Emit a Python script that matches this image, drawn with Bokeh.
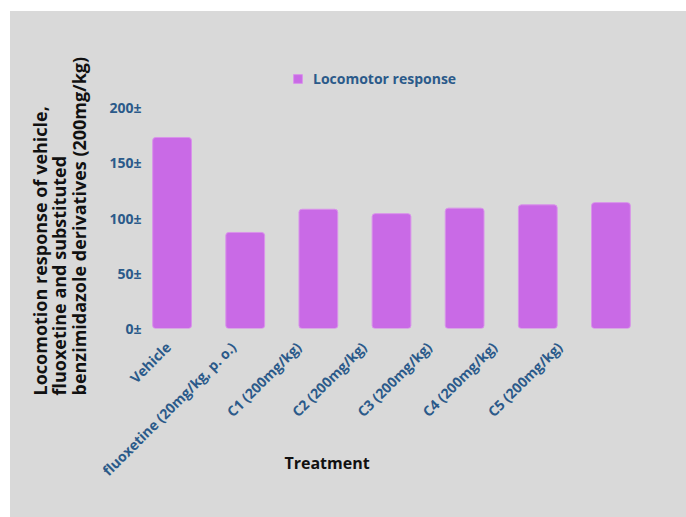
from math import pi

from bokeh.embed import file_html
from bokeh.models import (FixedTicker, Legend, LegendItem, LinearAxis,
                          LinearScale, Range1d, Title)
from bokeh.plotting import figure
from bokeh.resources import INLINE

# Locomotor response per treatment group
treatments = [
    "Vehicle",
    "fluoxetine (20mg/kg, p. o.)",
    "C1 (200mg/kg)",
    "C2 (200mg/kg)",
    "C3 (200mg/kg)",
    "C4 (200mg/kg)",
    "C5 (200mg/kg)",
]
locomotor_response = [173, 87, 108, 104, 109, 112, 114]

y_ticks = [0, 50, 100, 150, 200]
y_tick_labels = ["0\u00b1", "50\u00b1", "100\u00b1", "150\u00b1", "200\u00b1"]

y_title = ("Locomotion response of vehicle,\n"
           "fluoxetine and substituted\n"
           "benzimidazole derivatives (200mg/kg)")
x_title = "Treatment"

BG = "#d9d9d9"
BAR = "#c96ae6"
BLUE = "#2b5a8a"
INK = "#111111"
FONT = "Open Sans"

# one slot per treatment, bar centred in its slot
slots = [i + 0.5 for i in range(len(treatments))]

p = figure(
    x_range=Range1d(0, len(treatments)),
    y_range=Range1d(0, 240),
    width=676,
    height=506,
    output_backend="svg",
    toolbar_location=None,
    x_axis_location=None,
    min_border_left=125,
    min_border_right=39,
    min_border_top=52,
    min_border_bottom=189,
    background_fill_color=BG,
    border_fill_color=BG,
    outline_line_color=None,
)
p.margin = (11, 0, 0, 10)
p.styles = {"background-color": BG}

bars = p.vbar(
    x=slots,
    top=locomotor_response,
    width=0.53,
    fill_color=BAR,
    line_color="#d993ea",
    line_width=1,
    border_radius=3,
)

p.xgrid.grid_line_color = None
p.ygrid.grid_line_color = None

# y axis: plain tick labels only
p.yaxis.ticker = FixedTicker(ticks=y_ticks)
p.yaxis.major_label_overrides = {t: s for t, s in zip(y_ticks, y_tick_labels)}
p.yaxis.axis_line_color = None
p.yaxis.major_tick_line_color = None
p.yaxis.minor_tick_line_color = None
p.yaxis.major_tick_out = 0
p.yaxis.major_label_standoff = -6
p.yaxis.major_label_text_font = FONT
p.yaxis.major_label_text_font_style = "bold"
p.yaxis.major_label_text_font_size = "14px"
p.yaxis.major_label_text_color = BLUE

# treatment names sit on a slightly tighter axis of their own;
# the trailing no-break spaces pull the centred title towards the left
p.extra_x_ranges = {"names": Range1d(0, 7.85)}
p.extra_x_scales = {"names": LinearScale()}
name_axis = LinearAxis(
    x_range_name="names",
    ticker=FixedTicker(ticks=slots),
    major_label_overrides={pos: name for pos, name in zip(slots, treatments)},
    axis_line_color=None,
    major_tick_line_color=None,
    minor_tick_line_color=None,
    major_tick_out=0,
    major_label_orientation=pi / 4,
    major_label_standoff=16,
    major_label_text_font=FONT,
    major_label_text_font_style="bold",
    major_label_text_font_size="14px",
    major_label_text_color=BLUE,
    axis_label=x_title + "\u00a0" * 31,
    axis_label_standoff=-37,
    axis_label_text_font=FONT,
    axis_label_text_font_style="bold",
    axis_label_text_font_size="16px",
    axis_label_text_color=INK,
)
p.add_layout(name_axis, "below")

# y axis title, anchored a little below the frame bottom
p.add_layout(Title(
    text=y_title, align="left", vertical_align="top", offset=-67, standoff=28,
    text_line_height=0.82,
    text_font=FONT, text_font_style="bold", text_font_size="18px",
    text_color=INK,
), "left")

legend = Legend(
    items=[LegendItem(label="Locomotor response", renderers=[bars])],
    location=(157, 240),
    orientation="horizontal",
    glyph_width=11,
    glyph_height=11,
    label_standoff=10,
    padding=0,
    margin=0,
    border_line_color=None,
    background_fill_alpha=0,
    label_text_font=FONT,
    label_text_font_style="bold",
    label_text_font_size="14px",
    label_text_color=BLUE,
)
p.add_layout(legend)

open("out.html", "w").write(file_html(p, INLINE))
